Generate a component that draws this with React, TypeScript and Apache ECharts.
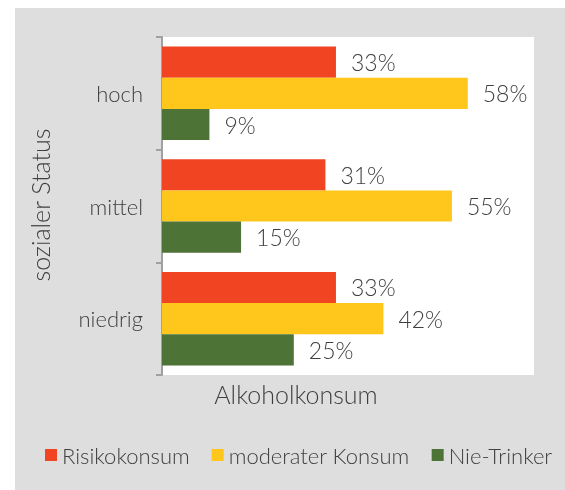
import React, { useEffect, useRef } from "react";
import * as echarts from "echarts";

const categories = ["hoch", "mittel", "niedrig"];
const risikokonsum = [33, 31, 33];
const moderaterKonsum = [58, 55, 42];
const nieTrinker = [9, 15, 25];
const seriesNames = ["Risikokonsum", "moderater Konsum", "Nie-Trinker"];
const colors = ["#F04423", "#FFC61B", "#4E7336"];
const FONT = "Lato";
const TEXT = "#3f3f3f";

export default function App() {
  const ref = useRef<HTMLDivElement>(null);
  useEffect(() => {
    if (!ref.current) return;
    const chart = echarts.init(ref.current, undefined, { renderer: "svg" });
    const label = {
      show: true,
      position: "right",
      distance: 15,
      formatter: "{c}%",
      fontFamily: FONT,
      fontWeight: 300,
      fontSize: 23,
      color: TEXT,
    };
    const mk = (name: string, data: number[], color: string) => ({
      name,
      type: "bar",
      data,
      itemStyle: { color },
      label,
      barGap: "0%",
      barCategoryGap: "17%",
    });
    chart.setOption({
      animation: false,
      textStyle: { fontFamily: FONT },
      graphic: [
        { type: "rect", z: -10, shape: { x: 15, y: 8, width: 550, height: 482 }, style: { fill: "#dedede" } },
        { type: "rect", z: -9, shape: { x: 162, y: 37, width: 372, height: 338 }, style: { fill: "#ffffff" } },
        {
          type: "text",
          x: 40,
          y: 205,
          rotation: Math.PI / 2,
          style: { text: "sozialer Status", fontFamily: FONT, fontWeight: 300, fontSize: 25, fill: TEXT, align: "center", verticalAlign: "middle" },
        },
        {
          type: "text",
          x: 296,
          y: 394,
          style: { text: "Alkoholkonsum", fontFamily: FONT, fontWeight: 300, fontSize: 25, fill: TEXT, align: "center", verticalAlign: "middle" },
        },
      ],
      legend: {
        data: seriesNames,
        left: 40,
        top: 439,
        icon: "rect",
        itemWidth: 12,
        itemHeight: 12,
        itemGap: 22,
        itemStyle: { borderWidth: 0 },
        textStyle: { fontFamily: FONT, fontWeight: 300, fontSize: 22, color: TEXT },
      },
      grid: { left: 162, top: 37, width: 369, height: 338, containLabel: false },
      xAxis: {
        type: "value",
        min: 0,
        max: 70,
        show: false,
      },
      yAxis: {
        type: "category",
        data: categories,
        inverse: true,
        axisLine: { show: true, lineStyle: { color: "#a0a0a0", width: 2 } },
        axisTick: { show: true, length: 6, lineStyle: { color: "#a0a0a0", width: 2 } },
        axisLabel: { margin: 19, fontFamily: FONT, fontWeight: 300, fontSize: 22, color: TEXT },
        splitLine: { show: false },
      },
      series: [
        mk(seriesNames[0], risikokonsum, colors[0]),
        mk(seriesNames[1], moderaterKonsum, colors[1]),
        mk(seriesNames[2], nieTrinker, colors[2]),
      ],
    });
    return () => chart.dispose();
  }, []);
  return <div ref={ref} style={{ position: "fixed", left: 0, top: 0, width: 565, height: 490 }} />;
}
